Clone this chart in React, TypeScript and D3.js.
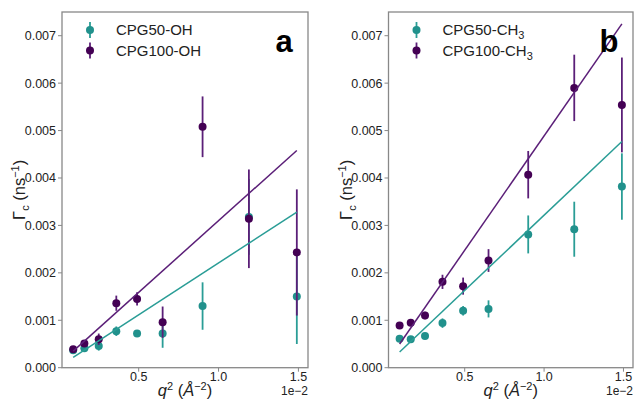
import * as d3 from 'd3';

// q^2 values in units of 1e-2 Å^-2
const q2 = [0.09, 0.16, 0.25, 0.36, 0.49, 0.65, 0.9, 1.19, 1.49];

// panel a: OH
const ohCPG50 = [0.00037, 0.00041, 0.00046, 0.00077, 0.00072, 0.00072, 0.0013, 0.00318, 0.0015];
const ohCPG50Err = [0.00005, 0.00005, 0.0001, 0.0001, 0.00007, 0.0003, 0.0005, 0.0008, 0.001];
const ohCPG100 = [0.00039, 0.00051, 0.0006, 0.00136, 0.00145, 0.00096, 0.00508, 0.00314, 0.00243];
const ohCPG100Err = [0.00005, 0.00006, 0.00012, 0.00016, 0.00014, 0.00033, 0.00064, 0.00104, 0.00133];
const ohFit50 = [0.00022, 0.00328];
const ohFit100 = [0.00035, 0.00458];

// panel b: CH3
const ch3CPG50 = [0.00061, 0.0006, 0.00067, 0.00094, 0.0012, 0.00124, 0.00281, 0.00292, 0.00382];
const ch3CPG50Err = [0.00005, 0.00005, 0.00005, 0.0001, 0.0001, 0.00018, 0.0004, 0.00058, 0.0007];
const ch3CPG100 = [0.00089, 0.00095, 0.0011, 0.00181, 0.00172, 0.00226, 0.00407, 0.0059, 0.00554];
const ch3CPG100Err = [0.00004, 0.00005, 0.00008, 0.00015, 0.00018, 0.00024, 0.0005, 0.0007, 0.001];
const ch3Fit50 = [0.00033, 0.00477];
const ch3Fit100 = [0.0005, 0.00725];

const yTicks = [0, 0.001, 0.002, 0.003, 0.004, 0.005, 0.006, 0.007];
const xTicks = [0.5, 1.0, 1.5];

const TEAL = '#21918c';
const TEAL_LINE = '#2a9d96';
const PURPLE = '#440154';
const PURPLE_LINE = '#5b1f78';
const FONT = '"Liberation Sans", Arial, sans-serif';

const top = 12;
const bottom = 367.7;

type Series = { vals: number[]; errs: number[]; fit: number[]; color: string; line: string };

const Panel = ({
  left,
  width,
  letter,
  series,
  names,
}: {
  left: number;
  width: number;
  letter: string;
  series: Series[];
  names: string[];
}) => {
  const x = d3.scaleLinear().domain([0.02, 1.56]).range([left, left + width]);
  const y = d3.scaleLinear().domain([0, 0.0075]).range([bottom, top]);
  const fmtY = d3.format('.3f');
  const fmtX = d3.format('.1f');
  const line = d3.line<[number, number]>().x(d => x(d[0])).y(d => y(d[1]));
  const xEnds = [q2[0], q2[q2.length - 1]];

  return (
    <g>
      {yTicks.map(t => (
        <g key={'y' + t}>
          <line x1={left - 4} x2={left} y1={y(t)} y2={y(t)} stroke="#888" strokeWidth={1} />
          <text x={left - 6} y={y(t)} dy="0.35em" textAnchor="end" fontSize={12.5} fill="#222" fontFamily={FONT}>
            {fmtY(t)}
          </text>
        </g>
      ))}
      {xTicks.map(t => (
        <g key={'x' + t}>
          <line x1={x(t)} x2={x(t)} y1={bottom} y2={bottom + 4} stroke="#888" strokeWidth={1} />
          <text x={x(t)} y={bottom + 13} textAnchor="middle" fontSize={12.5} fill="#222" fontFamily={FONT}>
            {fmtX(t)}
          </text>
        </g>
      ))}
      <text x={left + width} y={bottom + 27.5} textAnchor="end" fontSize={12} fill="#222" fontFamily={FONT}>
        1e−2
      </text>
      <text x={left + width / 2} y={bottom + 28} textAnchor="middle" fontSize={16.5} fill="#222" fontFamily={FONT}>
        <tspan fontStyle="italic">q</tspan>
        <tspan dy={-6} fontSize={11}>2</tspan>
        <tspan dy={6}> (</tspan>
        <tspan fontStyle="italic">Å</tspan>
        <tspan dy={-6} fontSize={11}>−2</tspan>
        <tspan dy={6}>)</tspan>
      </text>
      <text
        transform={`translate(${left - 37},${(top + bottom) / 2}) rotate(-90)`}
        textAnchor="middle"
        fontSize={16.5}
        fill="#222"
        fontFamily={FONT}
      >
        Γ
        <tspan dy={4} fontSize={11}>c</tspan>
        <tspan dy={-4}> (ns</tspan>
        <tspan dy={-6} fontSize={11}>−1</tspan>
        <tspan dy={6}>)</tspan>
      </text>

      {series.map((s, si) => (
        <g key={'s' + si}>
          {q2.map((q, i) => (
            <line
              key={'e' + i}
              x1={x(q)}
              x2={x(q)}
              y1={y(s.vals[i] - s.errs[i])}
              y2={y(s.vals[i] + s.errs[i])}
              stroke={s.line}
              strokeWidth={1.8}
            />
          ))}
          {q2.map((q, i) => (
            <circle key={'c' + i} cx={x(q)} cy={y(s.vals[i])} r={4} fill={s.color} />
          ))}
        </g>
      ))}
      {series.map((s, si) => (
        <path
          key={'f' + si}
          d={line([[xEnds[0], s.fit[0]], [xEnds[1], s.fit[1]]]) || ''}
          fill="none"
          stroke={s.line}
          strokeWidth={1.5}
        />
      ))}

      {series.map((s, si) => (
        <g key={'l' + si} transform={`translate(${left + 28},${30 + si * 20.5})`}>
          <line x1={0} x2={0} y1={-8} y2={8} stroke={s.line} strokeWidth={1.8} />
          <circle cx={0} cy={0} r={4} fill={s.color} />
          <text x={26} y={0} dy="0.35em" fontSize={15} fill="#222" fontFamily={FONT}>
            {names[si]}
            {letter === 'b' ? <tspan dy={4} fontSize={11}>3</tspan> : null}
          </text>
        </g>
      ))}

      <text x={left + width - 24} y={52} textAnchor="middle" fontSize={31} fontWeight="bold" fill="#000" fontFamily={FONT}>
        {letter}
      </text>

      <rect x={left} y={top} width={width} height={bottom - top} fill="none" stroke="#888" strokeWidth={1.3} />
    </g>
  );
};

export default function App() {
  return (
    <svg width={634} height={405} style={{ position: 'absolute', left: 0, top: 0, background: '#fff' }}>
      <Panel
        left={62}
        width={246}
        letter="a"
        names={['CPG50-OH', 'CPG100-OH']}
        series={[
          { vals: ohCPG50, errs: ohCPG50Err, fit: ohFit50, color: TEAL, line: TEAL_LINE },
          { vals: ohCPG100, errs: ohCPG100Err, fit: ohFit100, color: PURPLE, line: PURPLE_LINE },
        ]}
      />
      <Panel
        left={388.5}
        width={244.5}
        letter="b"
        names={['CPG50-CH', 'CPG100-CH']}
        series={[
          { vals: ch3CPG50, errs: ch3CPG50Err, fit: ch3Fit50, color: TEAL, line: TEAL_LINE },
          { vals: ch3CPG100, errs: ch3CPG100Err, fit: ch3Fit100, color: PURPLE, line: PURPLE_LINE },
        ]}
      />
    </svg>
  );
}
